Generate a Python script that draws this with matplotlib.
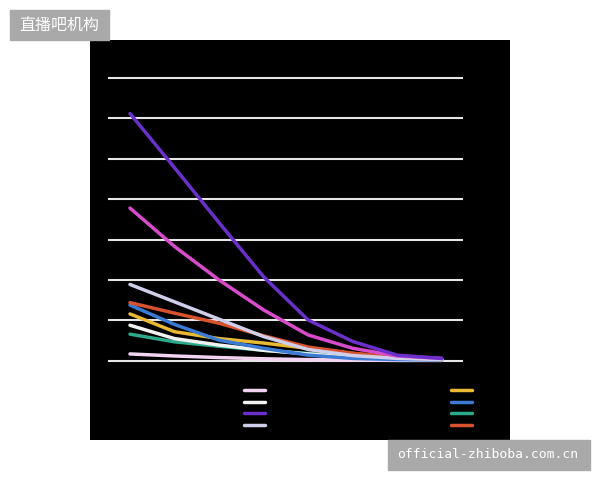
import matplotlib
matplotlib.use("Agg")
import matplotlib.pyplot as plt
from matplotlib.patches import Rectangle
from matplotlib.lines import Line2D

plt.rcParams['font.family'] = ['Noto Sans CJK SC', 'DejaVu Sans']

# 8 points along x, values in grid units (gridlines every 10)
steps = [0, 1, 2, 3, 4, 5, 6, 7]
purple = [61.2, 47.8, 34.2, 20.8, 10.1, 4.8, 1.4, 0.6]
magenta = [37.8, 28.3, 20.0, 12.6, 6.4, 3.1, 1.2, 0.6]
lavender = [18.9, 14.6, 10.3, 6.0, 2.8, 1.3, 0.6, 0.3]
red = [14.4, 11.8, 9.3, 6.2, 3.4, 1.9, 0.8, 0.3]
blue = [13.8, 9.0, 5.1, 3.1, 1.4, 0.6, 0.3, 0.2]
yellow = [11.6, 7.2, 5.5, 4.4, 3.1, 1.8, 0.8, 0.3]
white = [8.8, 5.5, 3.9, 2.6, 1.7, 0.8, 0.4, 0.2]
green = [6.6, 4.7, 3.6, 2.6, 1.8, 1.2, 0.6, 0.3]
pink = [1.7, 1.2, 0.8, 0.5, 0.3, 0.2, 0.1, 0.1]
grid_vals = [0, 10, 20, 30, 40, 50, 60, 70]

series = [
    (purple, '#6b2fcb'), (magenta, '#d84ccb'), (lavender, '#cfcfec'),
    (red, '#d8532c'), (blue, '#3b7bd4'), (yellow, '#e9b933'),
    (white, '#f2f2f2'), (green, '#2ca98a'), (pink, '#f2d4f2'),
]

fig = plt.figure(figsize=(6, 4.8), dpi=100, facecolor='white')
ax = fig.add_axes([0.15, 1 - 440 / 480, 0.70, 400 / 480])
ax.set_facecolor('black')

ax.hlines(grid_vals, -0.494, 7.478, color='#e6e6e6', lw=1.5, zorder=1)

# draw in reverse so the big ones sit on top like the original
for vals, col in reversed(series):
    ax.plot(steps, vals, color=col, lw=2.5, solid_capstyle='round', zorder=2)

ax.set_xlim(-0.898, 8.534)
ax.set_ylim(-19.6, 79.4)
ax.set_xticks([])
ax.set_yticks([])
for s in ax.spines.values():
    s.set_visible(False)

# legend with no label text
def handles(cols):
    return [Line2D([], [], color=c, lw=2.5, solid_capstyle='round') for c in cols]

leg_kw = dict(frameon=False, handlelength=2.5, handletextpad=0, labelspacing=0.32,
              fontsize=6, borderaxespad=0, borderpad=0)
left = fig.legend(handles(['#f2d4f2', '#f2f2f2', '#6b2fcb', '#cfcfec']), [''] * 4,
                  loc='upper left', bbox_to_anchor=(244 / 600, 1 - 386 / 480), **leg_kw)
right = fig.legend(handles(['#e9b933', '#3b7bd4', '#2ca98a', '#d8532c']), [''] * 4,
                   loc='upper left', bbox_to_anchor=(451 / 600, 1 - 386 / 480), **leg_kw)

# watermarks
fig.patches.append(Rectangle((10 / 600, 1 - 40 / 480), 99 / 600, 30 / 480,
                             transform=fig.transFigure, color='#a9a9a9', zorder=5))
fig.text(59.5 / 600, 1 - 25 / 480, '直播吧机构', color='white', fontsize=11.5,
         ha='center', va='center', zorder=6)
fig.patches.append(Rectangle((388 / 600, 1 - 470 / 480), 202 / 600, 30 / 480,
                             transform=fig.transFigure, color='#a9a9a9', zorder=5))
fig.text(488 / 600, 1 - 455 / 480, 'official-zhiboba.com.cn', color='white', fontsize=9.4,
         family='DejaVu Sans Mono', ha='center', va='center', zorder=6)

fig.savefig('out.png', dpi=100, facecolor='white')
